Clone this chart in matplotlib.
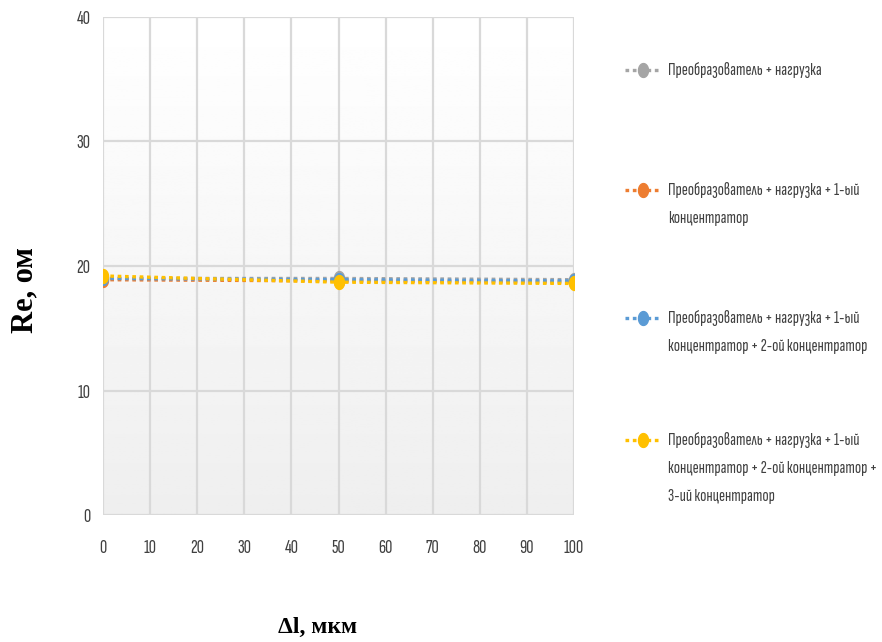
import numpy as np
import matplotlib
matplotlib.use("Agg")
import matplotlib.pyplot as plt
from matplotlib.lines import Line2D
from matplotlib.path import Path

# Данные: Re (Ом) в зависимости от смещения Δl (мкм)
dl = [0, 50, 100]
re_load = [19.0, 19.0, 18.9]
re_c1 = [18.9, 18.8, 18.7]
re_c2 = [19.0, 18.9, 18.8]
re_c3 = [19.2, 18.7, 18.6]

labels = [
    "Преобразователь + нагрузка",
    "Преобразователь + нагрузка + 1-ый\nконцентратор",
    "Преобразователь + нагрузка + 1-ый\nконцентратор + 2-ой концентратор",
    "Преобразователь + нагрузка + 1-ый\nконцентратор + 2-ой концентратор +\n3-ий концентратор",
]
colors = ["#a5a5a5", "#ed7d31", "#5b9bd5", "#ffc000"]

narrow = ["Sofia Sans Extra Condensed", "DejaVu Sans"]
serif = ["Liberation Serif", "DejaVu Serif"]

# вытянутый по вертикали маркер, как в Excel
t = np.linspace(0, 2 * np.pi, 40)
oval = Path(np.column_stack([0.72 * np.cos(t), np.sin(t)]), closed=True)

W, H = 882, 642
fig = plt.figure(figsize=(W / 100, H / 100), dpi=100)
ax = fig.add_axes([103 / W, 1 - 515 / H, 471 / W, 498 / H])

# градиентный фон области построения
grad = np.linspace(0.935, 1.0, 256).reshape(-1, 1)
ax.imshow(grad, extent=[0, 100, 0, 40], origin="lower", cmap="gray",
          vmin=0, vmax=1, aspect="auto", zorder=0)

for y, c in zip([re_load, re_c1, re_c2, re_c3], colors):
    ax.plot(dl, y, color=c, lw=2.4, dashes=(1.1, 1.1), dash_capstyle="butt",
            marker=oval, ms=10, mfc=c, mec=c, zorder=3)

ax.set_xlim(0, 100)
ax.set_ylim(0, 40)
ax.set_xticks(range(0, 101, 10))
ax.set_yticks(range(0, 41, 10))
ax.grid(True, color="#d9d9d9", lw=1.6, zorder=1)
ax.set_axisbelow(True)
for s in ax.spines.values():
    s.set_visible(False)
ax.tick_params(length=0, labelsize=14.5, colors="#404040")
ax.tick_params(axis="x", pad=17)
ax.tick_params(axis="y", pad=9)
for lab in ax.get_xticklabels() + ax.get_yticklabels():
    lab.set_family(narrow)

# подписи осей
fig.text(25 / W, 1 - 290 / H, "Re, ом", family=serif, weight="bold",
         fontsize=22, rotation=90, ha="center", va="center")
fig.text(318 / W, 1 - 627 / H, "Δl, мкм", family=serif, weight="bold",
         fontsize=17, ha="center", va="center")

# легенда справа
legend_y = [70, 190, 318, 440]
for lab, c, ypx in zip(labels, colors, legend_y):
    yf = 1 - ypx / H
    fig.add_artist(Line2D([625 / W, 660 / W], [yf, yf], color=c, lw=2.4,
                          dashes=(1.1, 1.1), dash_capstyle="butt",
                          transform=fig.transFigure))
    fig.add_artist(Line2D([642.5 / W], [yf], marker=oval, ms=10, color=c,
                          transform=fig.transFigure))
    fig.text(668 / W, 1 - (ypx - 8) / H, lab, family=narrow, fontsize=13.2,
             color="#404040", va="top", ha="left", linespacing=2.1,
             transform=fig.transFigure)

fig.savefig("out.png", dpi=100)
